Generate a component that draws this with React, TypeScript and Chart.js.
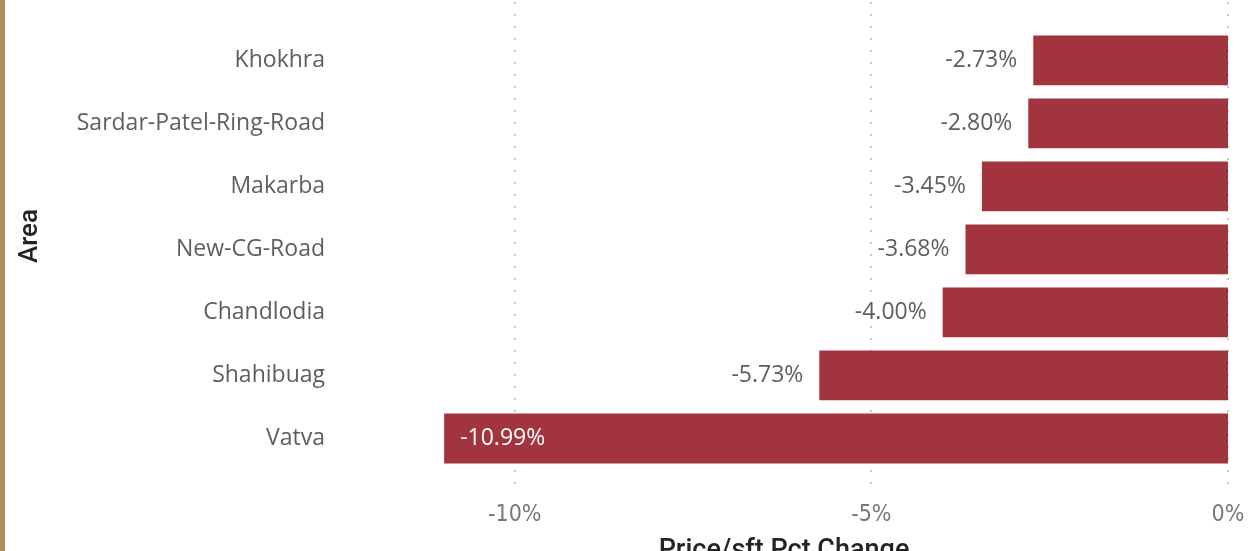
import React, { useEffect, useRef } from 'react';
import { Chart, registerables } from 'chart.js';

Chart.register(...registerables);

const areas = ['Khokhra', 'Sardar-Patel-Ring-Road', 'Makarba', 'New-CG-Road', 'Chandlodia', 'Shahibuag', 'Vatva'];
const pctChange = [-2.73, -2.8, -3.45, -3.68, -4.0, -5.73, -10.99];
const xTickValues = [-10, -5, 0];
const xMin = -12.45;
const xMax = 0;
const xTitle = 'Price/sft Pct Change';
const yTitle = 'Area';

const BAR_COLOR = '#A1343F';
const CANVAS_W = 1249;
const CANVAS_H = 580;
const TITLE_FONT = '500 26px Roboto, "DejaVu Sans", sans-serif';

const gridPlugin = {
  id: 'dottedGrid',
  beforeDatasetsDraw(chart: any) {
    const { ctx } = chart;
    const xs = chart.scales.x;
    ctx.save();
    ctx.strokeStyle = '#C8C8C8';
    ctx.lineWidth = 2;
    ctx.setLineDash([2, 10]);
    xTickValues.forEach((v) => {
      const px = Math.round(xs.getPixelForValue(v));
      ctx.beginPath();
      ctx.moveTo(px, 2);
      ctx.lineTo(px, 492);
      ctx.stroke();
    });
    ctx.restore();
  },
};

const yTitlePlugin = {
  id: 'yTitle',
  afterDraw(chart: any) {
    const { ctx } = chart;
    ctx.save();
    ctx.translate(30, 236);
    ctx.rotate(-Math.PI / 2);
    ctx.font = TITLE_FONT;
    ctx.fillStyle = '#252423';
    ctx.textAlign = 'center';
    ctx.textBaseline = 'middle';
    ctx.fillText(yTitle, 0, 0);
    ctx.restore();
  },
};

const labelPlugin = {
  id: 'barLabels',
  afterDatasetsDraw(chart: any) {
    const { ctx, chartArea } = chart;
    const meta = chart.getDatasetMeta(0);
    ctx.save();
    ctx.font = '23px "Open Sans", sans-serif';
    ctx.textBaseline = 'middle';
    const gap = 15;
    meta.data.forEach((bar: any, i: number) => {
      const v = pctChange[i];
      const text = v.toFixed(2) + '%';
      const w = ctx.measureText(text).width;
      const left = Math.min(bar.x, bar.base);
      if (left - chartArea.left < w + 2 * gap) {
        ctx.fillStyle = '#FFFFFF';
        ctx.textAlign = 'left';
        ctx.fillText(text, left + gap + 1, bar.y);
      } else {
        ctx.fillStyle = '#605E5C';
        ctx.textAlign = 'right';
        ctx.fillText(text, left - gap - 1, bar.y);
      }
    });
    ctx.restore();
  },
};

export default function App() {
  const ref = useRef<HTMLCanvasElement | null>(null);
  useEffect(() => {
    if (!ref.current) return;
    const chart = new Chart(ref.current, {
      type: 'bar',
      data: {
        labels: areas,
        datasets: [
          {
            data: pctChange,
            backgroundColor: BAR_COLOR,
            categoryPercentage: 1,
            barPercentage: 0.79,
          },
        ],
      },
      options: {
        indexAxis: 'y',
        animation: false,
        responsive: false,
        maintainAspectRatio: false,
        layout: { padding: { top: 26, right: 21, bottom: 0, left: 0 } },
        plugins: { legend: { display: false }, tooltip: { enabled: false } },
        scales: {
          x: {
            type: 'linear',
            min: xMin,
            max: xMax,
            afterBuildTicks: (axis: any) => {
              axis.ticks = xTickValues.map((v) => ({ value: v }));
            },
            afterFit: (scale: any) => {
              scale.height = CANVAS_H - 470;
              scale.paddingLeft = 0;
              scale.paddingRight = 0;
            },
            grid: { display: false, drawTicks: false },
            border: { display: false },
            ticks: {
              padding: 31,
              maxRotation: 0,
              autoSkip: false,
              color: '#777777',
              font: { family: '"DejaVu Sans Condensed", "DejaVu Sans", sans-serif', size: 23 },
              callback: (v: any) => `${v}%`,
            },
            title: {
              display: true,
              text: xTitle,
              color: '#252423',
              font: { family: 'Roboto, "DejaVu Sans", sans-serif', size: 27, weight: '500' },
              padding: { top: 0, bottom: 13 },
            },
          },
          y: {
            afterFit: (scale: any) => {
              scale.width = 340;
            },
            grid: { display: false, drawTicks: false },
            border: { display: false },
            ticks: {
              padding: 15,
              color: '#605E5C',
              font: { family: '"Open Sans", sans-serif', size: 23 },
            },
            title: { display: false },
          },
        },
      },
      plugins: [gridPlugin, labelPlugin, yTitlePlugin],
    });
    return () => chart.destroy();
  }, []);

  return (
    <div
      style={{
        position: 'fixed',
        left: 0,
        top: 0,
        width: CANVAS_W,
        height: 551,
        overflow: 'hidden',
        background: '#FFFFFF',
      }}
    >
      <canvas ref={ref} width={CANVAS_W} height={CANVAS_H} style={{ display: 'block' }} />
      <div
        style={{
          position: 'absolute',
          left: 0,
          top: 0,
          width: 5,
          height: 551,
          background: '#B38F5C',
        }}
      />
    </div>
  );
}
